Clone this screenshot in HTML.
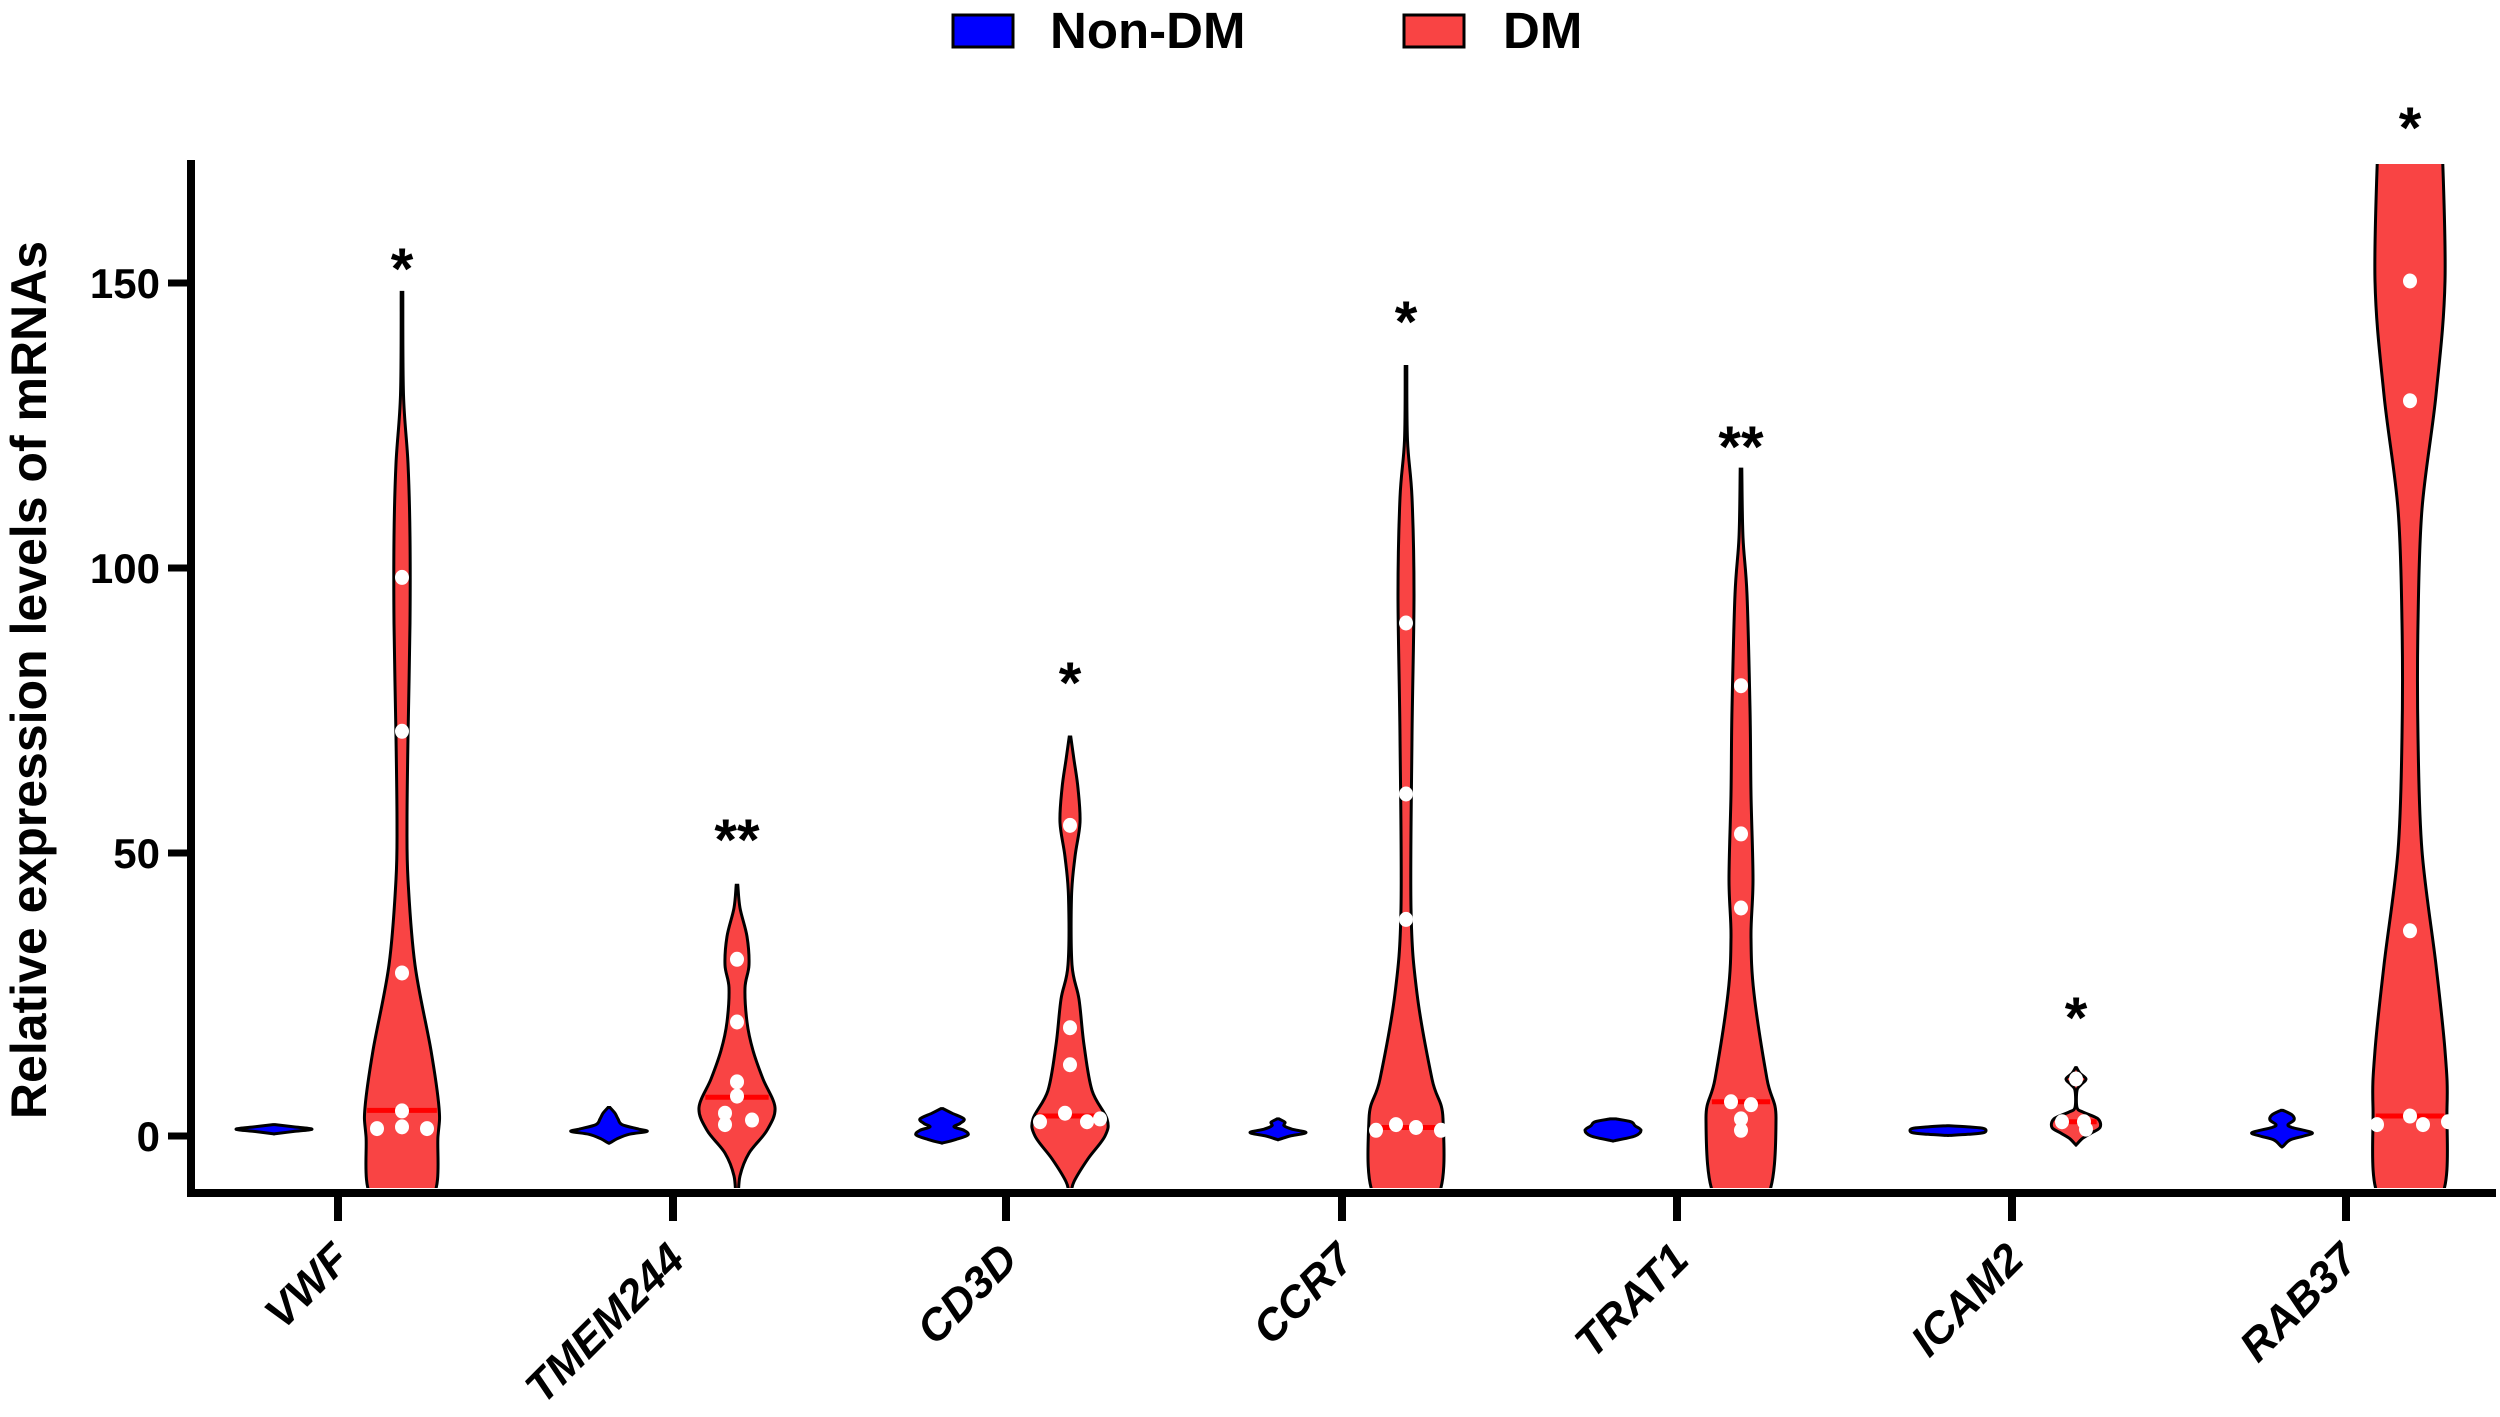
<!DOCTYPE html>
<html><head><meta charset="utf-8"><style>
html,body{margin:0;padding:0;background:#fff;}
svg{display:block;font-family:"Liberation Sans",Arial,sans-serif;}
</style></head><body>
<svg id="s" width="2500" height="1417" viewBox="0 0 2500 1417" xmlns="http://www.w3.org/2000/svg">
<defs><clipPath id="c"><rect x="196" y="164" width="2300" height="1024"/></clipPath></defs>
<!-- legend -->
<rect x="953" y="15" width="60" height="32" fill="#0000ff" stroke="#000" stroke-width="3"/>
<text x="1050" y="48" font-size="51" font-weight="bold">Non-DM</text>
<rect x="1404" y="15" width="60" height="32" fill="#f94444" stroke="#000" stroke-width="3"/>
<text x="1503" y="48" font-size="51" font-weight="bold">DM</text>
<!-- y label -->
<text transform="translate(46,680) rotate(-90)" text-anchor="middle" font-size="50" font-weight="bold">Relative expression levels of mRNAs</text>
<g id="plot" clip-path="url(#c)"></g>
<g id="over"></g>
<!-- axes -->
<line x1="191" y1="160" x2="191" y2="1197" stroke="#000" stroke-width="8"/>
<line x1="187" y1="1193" x2="2496" y2="1193" stroke="#000" stroke-width="8"/>
<g stroke="#000" stroke-width="7">
<line x1="168" y1="283" x2="191" y2="283"/><line x1="168" y1="568" x2="191" y2="568"/>
<line x1="168" y1="853" x2="191" y2="853"/><line x1="168" y1="1136" x2="191" y2="1136"/>
</g>
<g font-size="42" font-weight="bold" text-anchor="end">
<text x="160" y="298">150</text><text x="160" y="583">100</text><text x="160" y="868">50</text><text x="160" y="1151">0</text>
</g>
<g id="xt"></g>
</svg>
<script>
const ns="http://www.w3.org/2000/svg";
const Y=v=>1136-5.7*v;
const ticks=[338,673,1006,1342,1677,2012,2346];
const names=["VWF","TMEM244","CD3D","CCR7","TRAT1","ICAM2","RAB37"];
const xt=document.getElementById('xt');
ticks.forEach((t,i)=>{
 const l=document.createElementNS(ns,'line');
 l.setAttribute('x1',t);l.setAttribute('x2',t);l.setAttribute('y1',1193);l.setAttribute('y2',1221);
 l.setAttribute('stroke','#000');l.setAttribute('stroke-width','8');xt.appendChild(l);
 const tx=document.createElementNS(ns,'text');
 tx.setAttribute('transform',`translate(${t+14},1262) rotate(-45)`);
 tx.setAttribute('text-anchor','end');tx.setAttribute('font-size','44');tx.setAttribute('font-weight','bold');tx.setAttribute('font-style','italic');
 tx.textContent=names[i];xt.appendChild(tx);
});
function path(cx,prof){
 const R=prof.map(p=>[cx+p[1],Y(p[0])]);
 const L=prof.slice().reverse().map(p=>[cx-p[1],Y(p[0])]);
 const pts=R.concat(L);
 let d=`M${pts[0][0]},${pts[0][1]}`;
 const n=pts.length;
 for(let i=0;i<n-1;i++){
  const p0=pts[Math.max(i-1,0)],p1=pts[i],p2=pts[i+1],p3=pts[Math.min(i+2,n-1)];
  const c1=[p1[0]+(p2[0]-p0[0])/6,p1[1]+(p2[1]-p0[1])/6];
  const c2=[p2[0]-(p3[0]-p1[0])/6,p2[1]-(p3[1]-p1[1])/6];
  d+=`C${c1[0].toFixed(1)},${c1[1].toFixed(1)} ${c2[0].toFixed(1)},${c2[1].toFixed(1)} ${p2[0].toFixed(1)},${p2[1].toFixed(1)}`;
 }
 return d+'Z';
}
const plot=document.getElementById('plot');
function violin(cx,prof,fill,med,dots){
 const p=document.createElementNS(ns,'path');
 p.setAttribute('d',path(cx,prof));p.setAttribute('fill',fill);p.setAttribute('stroke','#000');p.setAttribute('stroke-width','3');
 plot.appendChild(p);
 if(med!=null){
  let hw=0;for(let i=0;i<prof.length-1;i++){if(prof[i][0]>=med&&prof[i+1][0]<=med){const f=(prof[i][0]-med)/(prof[i][0]-prof[i+1][0]);hw=prof[i][1]+f*(prof[i+1][1]-prof[i][1]);}}
  const l=document.createElementNS(ns,'line');
  l.setAttribute('x1',cx-hw+2);l.setAttribute('x2',cx+hw-2);l.setAttribute('y1',Y(med));l.setAttribute('y2',Y(med));
  l.setAttribute('stroke','#ff0000');l.setAttribute('stroke-width','5');plot.appendChild(l);
 }
 (dots||[]).forEach(d=>{const c=document.createElementNS(ns,'ellipse');
  c.setAttribute('cx',cx+d[1]);c.setAttribute('cy',Y(d[0]));c.setAttribute('rx',7);c.setAttribute('ry',7.5);c.setAttribute('fill','#fff');plot.appendChild(c);});
}
const B='#0000ff',Rd='#f94444';
violin(274,[[2,1],[1.6,20],[1.2,38],[0.8,20],[0.4,1]],B);
violin(402,[[148,0.8],[130,1.5],[118,6],[105,8],[90,8],[70,6],[55,5],[45,6],[30,13],[15,29],[5,37],[0,36],[-11,29]],Rd,4.5,
 [[98,0],[71,0],[28.6,0],[4.4,0],[1.6,0],[1.3,-25],[1.3,25]]);
violin(609,[[5,1],[4,6],[3,9],[2,13],[1.2,30],[0.8,38],[0.3,20],[-0.5,8],[-1.2,1]],B);
violin(737,[[44,0.8],[40,3],[35,10],[30,12],[26,8],[20,10],[15,16],[10,26],[5,38],[1,30],[-3,12],[-7,3],[-11,1]],Rd,6.8,
 [[31,0],[20,0],[9.5,0],[7,0],[4,-12],[2,-12],[2.8,15]]);
violin(942,[[4.8,1],[4,10],[3,22],[2.2,18],[1.6,12],[1,22],[0.2,26],[-0.6,14],[-1.2,1]],B);
violin(1070,[[70,0.8],[66,4],[61,8],[55,10],[49,5],[42,1.5],[30,2],[24,9],[16,14],[8,22],[3,37],[0,35],[-4,18],[-8,4],[-10,1]],Rd,3.5,
 [[54.5,0],[19,0],[12.5,0],[4,-5],[2.5,-30],[2.5,17],[3,30]]);
violin(1278,[[3,1],[2.4,7],[1.8,6],[1.2,14],[0.6,28],[0,12],[-0.6,1]],B);
violin(1406,[[135,0.8],[122,1.5],[112,6],[95,8],[70,6],[40,5],[25,11],[10,26],[3,37],[-11,30]],Rd,1.5,
 [[90,0],[60,0],[38,0],[1,-30],[2,-10],[1.5,10],[1,35]]);
violin(1613,[[3,3],[2.5,18],[1.8,22],[1,28],[0,22],[-0.8,2]],B);
violin(1741,[[117,0.8],[105,2],[95,6],[75,9],[60,10],[45,12],[35,10],[25,13],[10,26],[3,35],[-11,25]],Rd,6,
 [[79,0],[53,0],[40,0],[6,-10],[5.5,10],[3,0],[1,0]]);
violin(1948,[[1.8,1],[1.6,20],[1.3,36],[0.6,36],[0.3,20],[0.1,1]],B);
violin(2076,[[12,0.5],[11,4],[10,10],[9,5],[8,1],[5,1],[4.2,7],[3,22],[1.5,24],[0.5,15],[-0.5,6],[-1.5,0.5]],Rd,2.5,
 [[10,0],[2.5,-14],[2.5,8],[1.2,10]]);
violin(2282,[[4.5,1],[3.7,10],[2.8,12],[2,6],[1.5,10],[0.6,30],[0,22],[-0.7,8],[-1.8,1]],B);
violin(2410,[[175,32],[150,35],[130,26],[110,12],[90,8],[70,8],[50,12],[30,26],[15,35],[5,37],[-11,30]],Rd,3.5,
 [[150,0],[129,0],[36,0],[3.5,0],[2,-33],[2,13],[2.5,38]]);
const st=[[402,259,'*'],[737,830,'**'],[1070,673,'*'],[1406,312,'*'],[1741,437,'**'],[2076,1008,'*'],[2410,118,'*']];
const ov=document.getElementById('over');
st.forEach(s=>{const t=document.createElementNS(ns,'text');t.setAttribute('x',s[0]);t.setAttribute('y',s[1]+30);
 t.setAttribute('text-anchor','middle');t.setAttribute('font-size','58');t.setAttribute('font-weight','bold');t.textContent=s[2];ov.appendChild(t);});
</script>
</body></html>
